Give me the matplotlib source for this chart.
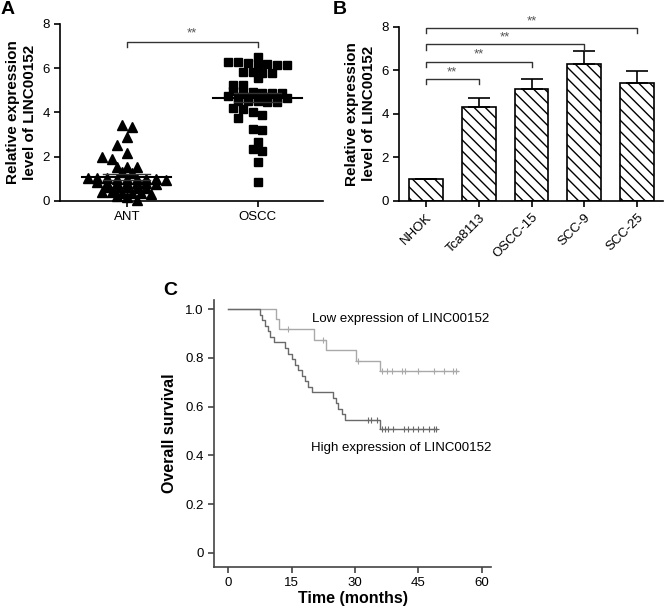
import numpy as np
import matplotlib
matplotlib.use("Agg")
import matplotlib.pyplot as plt

plt.rcParams['font.family'] = ['Liberation Sans', 'DejaVu Sans']
plt.rcParams['hatch.linewidth'] = 1.0

# ---------------- Données
# Panneau A : nuage de points
ant_values = [3.45, 3.35, 2.9, 2.55, 2.19, 2.0, 1.89, 1.55, 1.55, 1.53, 1.33, 1.28,
              1.05, 1.03, 1.02, 1.01, 1.0, 1.0, 0.99, 0.98, 0.97,
              0.84, 0.83, 0.82, 0.81, 0.8, 0.8, 0.79,
              0.64, 0.63, 0.62, 0.61, 0.6,
              0.42, 0.4, 0.38, 0.36, 0.34, 0.3,
              0.22, 0.18, 0.05]
oscc_values = [6.5, 6.3, 6.26, 6.23, 6.2, 6.18, 6.15, 6.13,
               5.85, 5.85, 5.8, 5.78, 5.55, 5.25, 5.25,
               4.95, 4.93, 4.92, 4.9, 4.9, 4.88,
               4.74, 4.72, 4.7, 4.7, 4.68, 4.66, 4.64,
               4.52, 4.5, 4.5, 4.48, 4.46,
               4.2, 4.15, 4.0, 3.9, 3.75, 3.25, 3.2, 2.68, 2.34, 2.28, 1.75, 0.84]
groups_a = ['ANT', 'OSCC']

# Panneau B : barres
cells = ['NHOK', 'Tca8113', 'OSCC-15', 'SCC-9', 'SCC-25']
bar_means = [1.0, 4.3, 5.12, 6.28, 5.4]
bar_err = [0.0, 0.45, 0.5, 0.62, 0.55]
sig_ends = [1, 2, 3, 4]
sig_heights = [5.6, 6.4, 7.2, 7.95]

# Panneau C : courbes de survie
low_times = [0, 11.3, 12.0, 20.3, 23.1, 30.2, 35.9]
low_surv = [1.0, 0.958, 0.917, 0.875, 0.833, 0.789, 0.745]
low_end = 54.3
low_censor = [14.1, 22.5, 30.8, 36.3, 37.5, 38.7, 41.1, 41.9, 45.0, 48.7, 51.0, 53.3, 53.9]

high_times = [0, 7.5, 7.9, 8.7, 9.3, 9.9, 10.7, 13.4, 14.2, 15.0, 15.8, 16.6, 17.4,
              18.2, 18.9, 19.9, 24.9, 25.4, 26.0, 26.8, 27.7, 36.0]
high_surv = [1.0, 0.977, 0.955, 0.932, 0.909, 0.886, 0.864, 0.841, 0.818, 0.795, 0.773,
             0.750, 0.727, 0.705, 0.682, 0.659, 0.636, 0.614, 0.591, 0.568, 0.545, 0.507]
high_end = 49.3
high_censor = [33.0, 33.8, 35.3, 36.3, 37.1, 37.9, 39.1, 41.5, 42.6, 43.8, 45.0, 46.2,
               47.4, 48.6, 49.2]


# ---------------- Placement en rangées (style GraphPad)
def rows_offsets(values, row_height, col_px, px_y, min_dist):
    vals = np.array(values)
    order = np.argsort(-vals)
    # regroupement en rangées
    rows = []
    for i in order:
        if rows and vals[rows[-1][0]] - vals[i] < row_height:
            rows[-1].append(i)
        else:
            rows.append([i])
    offsets = np.zeros(len(vals))
    placed = []
    for row in rows:
        n = len(row)
        base = [(j - (n - 1) / 2) * col_px for j in range(n)]
        shifts = [0] if n >= 5 else [0, -1, 1, -2, 2]
        best = base
        for s in shifts:
            cand = [b + s * col_px for b in base]
            hit = any((c - px) ** 2 + ((vals[k] - py) * px_y) ** 2 < min_dist ** 2
                      for c, k in zip(cand, row) for (px, py) in placed)
            if not hit:
                best = cand
                break
        for c, k in zip(best, row):
            offsets[k] = c
            placed.append((c, vals[k]))
    return offsets


fig = plt.figure(figsize=(6.64, 6.12), dpi=100)
W, H = 664, 612


def style(ax, color='black'):
    for s in ['top', 'right']:
        ax.spines[s].set_visible(False)
    for s in ['left', 'bottom']:
        ax.spines[s].set_linewidth(1.2)
        ax.spines[s].set_color(color)
    ax.tick_params(direction='out', length=4, width=1.2, color=color, labelsize=9.5)


# ---------------- Panneau A
axA = fig.add_axes([60 / W, 1 - 201 / H, 263 / W, 177 / H])
style(axA)
axA.set_xlim(0.49, 2.5)
axA.set_ylim(0, 8)
px_x = 263 / (2.5 - 0.49)
px_y = 177 / 8
markers = ['^', 's']
for i, (vals, m) in enumerate(zip([ant_values, oscc_values], markers)):
    xs = i + 1 + rows_offsets(vals, 0.18, 9.8, px_y, 8.5) / px_x
    axA.plot(xs, vals, m, color='black', markersize=6.5 if m == '^' else 6, clip_on=False,
             linestyle='none')
    mean = np.mean(vals)
    sem = np.std(vals, ddof=1) / np.sqrt(len(vals))
    axA.plot([i + 1 - 0.34, i + 1 + 0.34], [mean, mean], color='black', lw=1.5)
    for e in [mean - sem, mean + sem]:
        axA.plot([i + 1 - 0.18, i + 1 + 0.18], [e, e], color='#333333', lw=1.0)
axA.set_xticks([1, 2])
axA.set_xticklabels(groups_a)
axA.set_yticks([0, 2, 4, 6, 8])
axA.set_ylabel('Relative expression\nlevel of LINC00152', fontsize=11, fontweight='bold',
               labelpad=4)
axA.plot([1, 1, 2, 2], [6.95, 7.2, 7.2, 6.95], color='#333333', lw=1.0)
axA.text(1.5, 7.3, '**', ha='center', va='bottom', fontsize=9.5, color='#555555')

# ---------------- Panneau B
axB = fig.add_axes([399 / W, 1 - 201 / H, 264 / W, 174.3 / H])
style(axB)
x = np.arange(len(cells))
axB.bar(x, bar_means, width=0.64, color='white', edgecolor='black', linewidth=1.2,
        hatch='\\\\\\')
axB.errorbar(x, bar_means, yerr=[np.zeros(len(x)), bar_err], fmt='none', ecolor='black',
             elinewidth=1.2, capsize=8, capthick=1.2)
for end, h in zip(sig_ends, sig_heights):
    axB.plot([0, 0, end, end], [h - 0.25, h, h, h - 0.25], color='#333333', lw=1.0)
    axB.text(end / 2, h + 0.03, '**', ha='center', va='bottom', fontsize=9.5,
             color='#555555')
axB.set_xlim(-0.51, 4.49)
axB.set_ylim(0, 8)
axB.set_xticks(x)
axB.set_xticklabels(cells, rotation=45, ha='right', rotation_mode='anchor')
axB.set_yticks([0, 2, 4, 6, 8])
axB.set_ylabel('Relative expression\nlevel of LINC00152', fontsize=11, fontweight='bold',
               labelpad=4)

# ---------------- Panneau C
axC = fig.add_axes([214 / W, 1 - 566.7 / H, 277 / W, 266.7 / H])
style(axC, color='#444444')
axC.tick_params(labelsize=9.5)


def km(ax, times, surv, end, censor, color):
    t = list(times) + [end]
    s = list(surv) + [surv[-1]]
    ax.step(t, s, where='post', color=color, lw=1.0)
    idx = np.searchsorted(times, censor, side='right') - 1
    ax.plot(censor, np.array(surv)[idx], '+', color=color, markersize=4.5, mew=0.8,
            linestyle='none')


km(axC, low_times, low_surv, low_end, low_censor, '#a9a9a9')
km(axC, high_times, high_surv, high_end, high_censor, '#6a6a6a')
axC.set_xlim(-3.4, 62.2)
axC.set_ylim(-0.0575, 1.038)
axC.set_xticks([0, 15, 30, 45, 60])
axC.set_yticks([0, 0.2, 0.4, 0.6, 0.8, 1.0])
axC.set_yticklabels(['0', '0.2', '0.4', '0.6', '0.8', '1.0'])
axC.set_xlabel('Time (months)', fontsize=11.5, fontweight='bold', labelpad=1)
axC.set_ylabel('Overall survival', fontsize=11.5, fontweight='bold', labelpad=6)
axC.text(19.7, 0.96, 'Low expression of LINC00152', fontsize=9.5, va='center')
axC.text(19.5, 0.43, 'High expression of LINC00152', fontsize=9.5, va='center')

# ---------------- Lettres des panneaux
fig.text(1 / W, 1 - 1 / H, 'A', fontsize=14, fontweight='bold', va='top')
fig.text(333 / W, 1 - 1 / H, 'B', fontsize=14, fontweight='bold', va='top')
fig.text(163 / W, 1 - 282 / H, 'C', fontsize=14, fontweight='bold', va='top')

fig.savefig('out.png', dpi=100)
